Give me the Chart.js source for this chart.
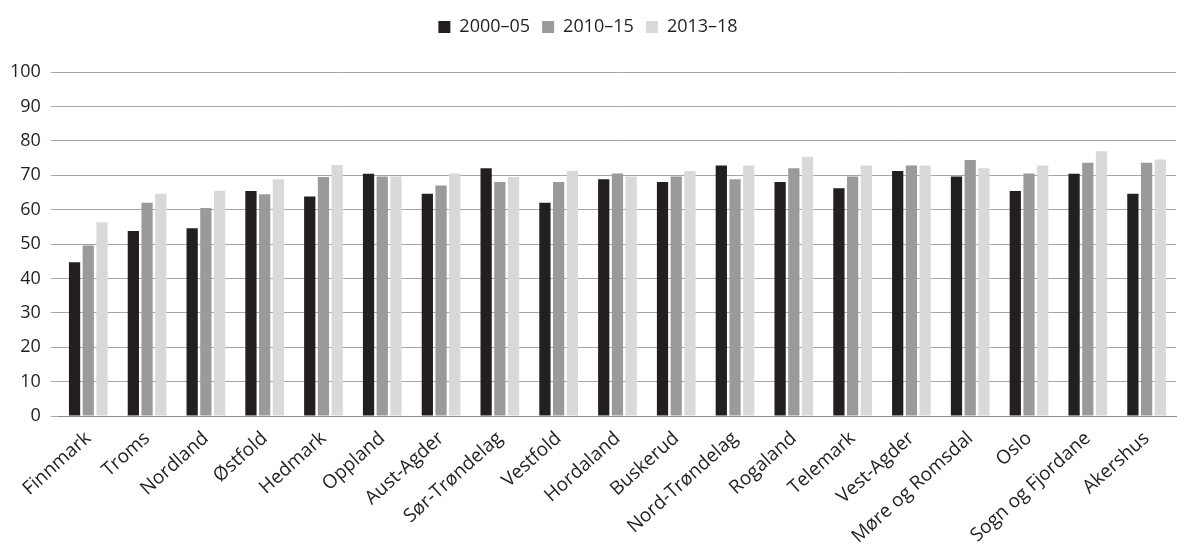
<!DOCTYPE html>
<html>
<head>
<meta charset="utf-8">
<script src="https://cdn.jsdelivr.net/npm/chart.js@4/dist/chart.umd.min.js"></script>
<style>
  body { margin: 0; background: #fff; }
  #wrap { width: 1200px; height: 551px; position: relative; }
</style>
</head>
<body>
<div id="wrap"><canvas id="chart"></canvas></div>
<script>
// Counties along the x axis
const counties = ['Finnmark', 'Troms', 'Nordland', 'Østfold', 'Hedmark', 'Oppland', 'Aust-Agder',
    'Sør-Trøndelag', 'Vestfold', 'Hordaland', 'Buskerud', 'Nord-Trøndelag', 'Rogaland', 'Telemark',
    'Vest-Agder', 'Møre og Romsdal', 'Oslo', 'Sogn og Fjordane', 'Akershus'];

const period2000 = [44.7, 53.8, 54.6, 65.4, 63.8, 70.4, 64.6, 72.0, 62.0, 68.8, 68.0, 72.8, 68.0, 66.2, 71.2, 69.6, 65.4, 70.4, 64.6];
const period2010 = [49.6, 62.0, 60.5, 64.5, 69.5, 69.6, 67.0, 68.0, 68.0, 70.5, 69.6, 68.8, 72.0, 69.6, 72.8, 74.4, 70.5, 73.6, 73.6];
const period2013 = [56.3, 64.6, 65.5, 68.8, 73.0, 69.6, 70.5, 69.5, 71.2, 69.6, 71.2, 72.8, 75.4, 72.8, 72.8, 72.0, 72.8, 77.0, 74.6];

const seriesLabels = ['2000–05', '2010–15', '2013–18'];
const yTicks = [0, 10, 20, 30, 40, 50, 60, 70, 80, 90, 100];

const FONT = '"Open Sans", "Liberation Sans", sans-serif';

function makeDataset(label, data, color) {
    return {
        label: label,
        data: data,
        backgroundColor: color,
        borderWidth: 0,
        barPercentage: 0.82,
        categoryPercentage: 0.7
    };
}

// Extra space between legend and plot
const legendGap = {
    id: 'legendGap',
    beforeInit(chart) {
        const fit = chart.legend.fit;
        chart.legend.fit = function () {
            fit.bind(chart.legend)();
            this.height += 26;
        };
    }
};

new Chart(document.getElementById('chart'), {
    type: 'bar',
    data: {
        labels: counties,
        datasets: [
            makeDataset(seriesLabels[0], period2000, '#231f20'),
            makeDataset(seriesLabels[1], period2010, '#9a9a9a'),
            makeDataset(seriesLabels[2], period2013, '#d9d9d9')
        ]
    },
    options: {
        responsive: true,
        maintainAspectRatio: false,
        animation: false,
        layout: { padding: { left: 0, right: 24, top: 6, bottom: 0 } },
        plugins: {
            tooltip: { enabled: false },
            legend: {
                position: 'top',
                labels: {
                    color: '#231f20',
                    boxWidth: 12,
                    boxHeight: 12,
                    padding: 12,
                    font: { family: FONT, size: 18 }
                }
            }
        },
        scales: {
            x: {
                grid: { display: false },
                border: { color: '#8c8c8c' },
                ticks: {
                    color: '#231f20',
                    autoSkip: false,
                    maxRotation: 42,
                    minRotation: 42,
                    font: { family: FONT, size: 19 }
                }
            },
            y: {
                min: 0,
                max: 100,
                afterBuildTicks: axis => { axis.ticks = yTicks.map(v => ({ value: v })); },
                grid: { color: '#a6a6a6', lineWidth: 1 },
                border: { display: false },
                ticks: {
                    color: '#231f20',
                    padding: 10,
                    font: { family: FONT, size: 18 }
                }
            }
        }
    },
    plugins: [legendGap]
});
</script>
</body>
</html>
